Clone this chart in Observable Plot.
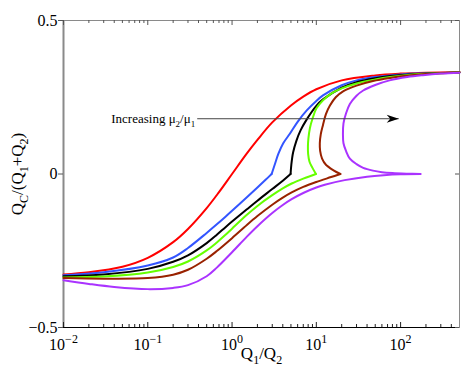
<!DOCTYPE html>
<html><head><meta charset="utf-8">
<script src="https://cdn.jsdelivr.net/npm/d3@7"></script>
<script src="https://cdn.jsdelivr.net/npm/@observablehq/plot@0.6"></script>
<style>body{margin:0;background:#fff}</style>
</head><body><div id="chart"></div>
<script>
// ---- data ----
const xRed = [0.01,0.02,0.05,0.1,0.2,0.3,0.5,0.7,1,1.5,2,3,5,7,10,20,50,100,200,500];
const yRed = [-0.327,-0.320,-0.302,-0.273,-0.222,-0.179,-0.111,-0.059,0,0.067,0.111,0.168,0.223,0.252,0.276,0.305,0.321,0.327,0.330,0.332];

const xBlueLo = [0.01,0.03,0.1,0.2,0.3,0.5,0.66,0.83,1,1.5,2,2.5,2.95];
const yBlueLo = [-0.330,-0.320,-0.298,-0.272,-0.241,-0.192,-0.164,-0.140,-0.120,-0.076,-0.044,-0.019,0];
const xBlueHi = [2.95,3.25,3.55,4.05,4.85,6,7.7,10,12,20,30,50,75,150,500];
const yBlueHi = [0,0.035,0.066,0.100,0.131,0.170,0.207,0.238,0.256,0.289,0.305,0.316,0.321,0.327,0.331];

const xBlackLo = [0.01,0.03,0.1,0.2,0.3,0.5,0.66,0.83,1,1.5,2,3,4,4.95];
const yBlackLo = [-0.333,-0.327,-0.309,-0.286,-0.265,-0.225,-0.198,-0.174,-0.155,-0.115,-0.087,-0.049,-0.022,0];
const xBlackHi = [4.95,5.05,5.3,5.8,6.5,7.7,10,12,20,30,50,75,150,500];
const yBlackHi = [0,0.03,0.07,0.108,0.142,0.178,0.222,0.243,0.281,0.299,0.312,0.319,0.326,0.331];

const xGreenLo = [0.01,0.03,0.1,0.2,0.3,0.5,0.66,0.83,1,1.5,2,3,4,5.1,7,9.9];
const yGreenLo = [-0.337,-0.334,-0.321,-0.303,-0.285,-0.249,-0.223,-0.199,-0.178,-0.133,-0.104,-0.069,-0.047,-0.031,-0.015,0];
const xGreenHi = [9.9,9.0,8.3,8.0,7.95,8.05,8.4,9.0,10,12,15,20,30,50,75,150,500];
const yGreenHi = [0,0.02,0.04,0.065,0.09,0.115,0.15,0.18,0.213,0.24,0.262,0.279,0.295,0.308,0.316,0.325,0.331];

const xBrownLo = [0.01,0.03,0.1,0.2,0.3,0.5,0.66,1,1.5,2,3,4,5.1,7,10,15,19.3];
const yBrownLo = [-0.339,-0.341,-0.339,-0.328,-0.312,-0.276,-0.251,-0.209,-0.166,-0.137,-0.100,-0.077,-0.060,-0.042,-0.026,-0.010,0];
const xBrownHi = [19.3,16,13,11.7,11.1,11.0,11.3,12,13,14.5,17,21,30,47,75,117,200,500];
const yBrownHi = [0,0.012,0.03,0.05,0.075,0.10,0.13,0.16,0.195,0.223,0.25,0.27,0.288,0.303,0.313,0.32,0.326,0.331];

const xPurpleLo = [0.01,0.02,0.04,0.1,0.2,0.3,0.5,0.66,1,1.5,2,3,4,5.1,7.1,10,12.6,21.7,40,63,100,172];
const yPurpleLo = [-0.346,-0.358,-0.368,-0.375,-0.371,-0.362,-0.333,-0.305,-0.255,-0.204,-0.170,-0.127,-0.101,-0.082,-0.061,-0.044,-0.035,-0.020,-0.009,-0.004,-0.001,0];
const xPurpleHi = [172,120,80,60,47,36,30,25,22.5,21,20.7,21,22.5,25,30,36,50,74,120,184,300,500];
const yPurpleHi = [0,0.001,0.003,0.006,0.011,0.02,0.032,0.05,0.075,0.10,0.13,0.165,0.197,0.228,0.255,0.272,0.29,0.305,0.316,0.322,0.327,0.330];

const seriesNames = ["s1","s2","s3","s4","s5","s6"];
const seriesColors = ["#ff0000","#3355ff","#000000","#66ff00","#992200","#aa33ff"];

const xMajor = [0.01,0.1,1,10,100];
const xTickLabels = ["10^{−2}","10^{−1}","10^{0}","10^{1}","10^{2}"];
const xMinor = [0.02,0.03,0.04,0.05,0.06,0.07,0.08,0.09,0.2,0.3,0.4,0.5,0.6,0.7,0.8,0.9,2,3,4,5,6,7,8,9,20,30,40,50,60,70,80,90,200,300,400];
const yMajor = [-0.5,0,0.5];
const yTickLabels = ["−0.5","0","0.5"];

const xTitle = "Q_1/Q_2";
const yTitle = "Q_C/(Q_1+Q_2)";
const annotation = "Increasing μ_2/μ_1";
const arrowX = [0.386, 95];
const arrowY = 0.18;

// ---- table ----
const branches = [
  ["s1","a",xRed,yRed],
  ["s2","lo",xBlueLo,yBlueLo],["s2","hi",xBlueHi,yBlueHi],
  ["s3","lo",xBlackLo,yBlackLo],["s3","hi",xBlackHi,yBlackHi],
  ["s4","lo",xGreenLo,yGreenLo],["s4","hi",xGreenHi,yGreenHi],
  ["s5","lo",xBrownLo,yBrownLo],["s5","hi",xBrownHi,yBrownHi],
  ["s6","lo",xPurpleLo,yPurpleLo],["s6","hi",xPurpleHi,yPurpleHi]
];
const rows = branches.flatMap(([s,b,xs,ys]) => xs.map((x,i) => ({x, y: ys[i], s, k: s + b})));

const arrowHead = {draw(ctx){ ctx.moveTo(0,0); ctx.lineTo(-12,-4); ctx.lineTo(-8.5,0); ctx.lineTo(-12,4); ctx.closePath(); }};

const W = 463, H = 375, mL = 63, mR = 4, mT = 20, mB = 48;
const fw = W - mL - mR, fh = H - mT - mB;

const plot = Plot.plot({
  width: W, height: H,
  marginLeft: mL, marginRight: mR, marginTop: mT, marginBottom: mB,
  style: {fontFamily: "'Liberation Serif', 'Times New Roman', serif", fontSize: "16px", background: "#fff", color: "#000"},
  x: {type: "log", domain: [0.01, 500]},
  y: {domain: [-0.5, 0.5]},
  color: {domain: seriesNames, range: seriesColors},
  marks: [
    Plot.frame({stroke: "#8a8a8a"}),
    Plot.ruleX([0.01], {stroke: "#8a8a8a", strokeWidth: 2}),
    Plot.ruleY([-0.5], {stroke: "#000", strokeWidth: 1.2}),
    // ticks
    Plot.tickX(xMajor, {x: d => d, insetTop: fh - 5, stroke: "#222"}),
    Plot.tickX(xMinor, {x: d => d, insetTop: fh - 3, stroke: "#222"}),
    Plot.tickX(xMajor, {x: d => d, insetBottom: fh - 5, stroke: "#555"}),
    Plot.tickX(xMinor, {x: d => d, insetBottom: fh - 3, stroke: "#555"}),
    Plot.tickY(yMajor, {y: d => d, insetLeft: fw - 4, stroke: "#555"}),
    Plot.axisX({ticks: xMajor, tickSize: 0, tickPadding: 11, fontSize: 16,
      tickFormat: d => xTickLabels[xMajor.indexOf(d)], label: null}),
    Plot.axisY({ticks: yMajor, tickSize: 5, tickPadding: 1, fontSize: 16, stroke: "#555",
      tickFormat: d => yTickLabels[yMajor.indexOf(d)], label: null}),
    // curves
    Plot.line(rows, {x: "x", y: "y", z: "k", stroke: "s", strokeWidth: 2, curve: "catmull-rom"}),
    // annotation arrow
    Plot.link([{x1: arrowX[0], x2: arrowX[1], y: arrowY}], {x1: "x1", x2: "x2", y1: "y", y2: "y", stroke: "#444", strokeWidth: 1}),
    Plot.dot([{x: arrowX[1], y: arrowY}], {x: "x", y: "y", symbol: arrowHead, fill: "#000", stroke: "none"}),
    Plot.text([annotation], {x: arrowX[0], y: arrowY, text: d => d, textAnchor: "end", dx: -2, fontSize: 13, className: "rich13"}),
    // titles
    Plot.text([xTitle], {frameAnchor: "bottom", textAnchor: "middle", dy: 31, text: d => d, fontSize: 17, className: "rich17"}),
    Plot.text([yTitle], {frameAnchor: "left", textAnchor: "middle", dx: -46, rotate: -90, text: d => d, fontSize: 17, className: "rich17"})
  ]
});

const NS = "http://www.w3.org/2000/svg";
function rich(el, s, fs) {
  el.textContent = "";
  const parts = s.split(/([_^]\{[^}]*\}|[_^].)/).filter(p => p);
  let shift = 0;
  for (const p of parts) {
    const ts = document.createElementNS(NS, "tspan");
    let target = 0, txt = p;
    if (p[0] === "_" || p[0] === "^") {
      txt = p[1] === "{" ? p.slice(2, -1) : p.slice(1);
      target = p[0] === "_" ? Math.round(fs * 0.3) : -Math.round(fs * 0.42);
      ts.setAttribute("font-size", Math.round(fs * 0.72));
    }
    if (target - shift) ts.setAttribute("dy", target - shift);
    shift = target;
    ts.textContent = txt;
    el.appendChild(ts);
  }
}
plot.querySelectorAll('g[aria-label="x-axis tick label"] text').forEach(t => rich(t, t.textContent, 16));
plot.querySelectorAll('.rich13 text').forEach(t => rich(t, t.textContent, 13));
plot.querySelectorAll('.rich17 text').forEach(t => rich(t, t.textContent, 17));

document.getElementById("chart").appendChild(plot);
</script>
</body></html>
